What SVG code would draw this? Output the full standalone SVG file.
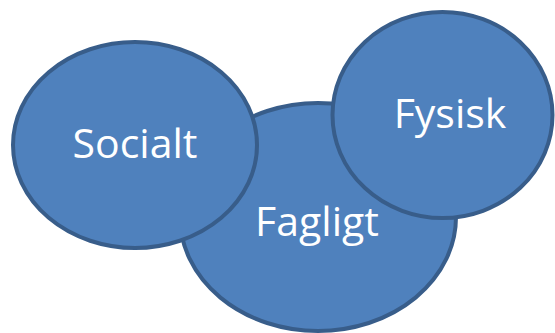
<svg xmlns="http://www.w3.org/2000/svg" width="555" height="333" viewBox="0 0 555 333">
<style>
.n{fill:#4F81BD;stroke:#385D8A;stroke-width:4}
.t{fill:#FFFFFF;font-family:"Open Sans","Liberation Sans",sans-serif;font-size:41px;text-anchor:middle}
</style>
<rect width="555" height="333" fill="#FFFFFF"/>
<g id="fagligt">
<ellipse class="n" cx="318" cy="217" rx="138" ry="114"/>
<text class="t" x="317" y="236">Fagligt</text>
</g>
<g id="socialt">
<ellipse class="n" cx="135" cy="145" rx="122" ry="103"/>
<text class="t" x="135" y="158">Socialt</text>
</g>
<g id="fysisk">
<ellipse class="n" cx="442.5" cy="115" rx="110" ry="103"/>
<text class="t" x="450" y="128">Fysisk</text>
</g>
<g id="connectors"></g>
</svg>
